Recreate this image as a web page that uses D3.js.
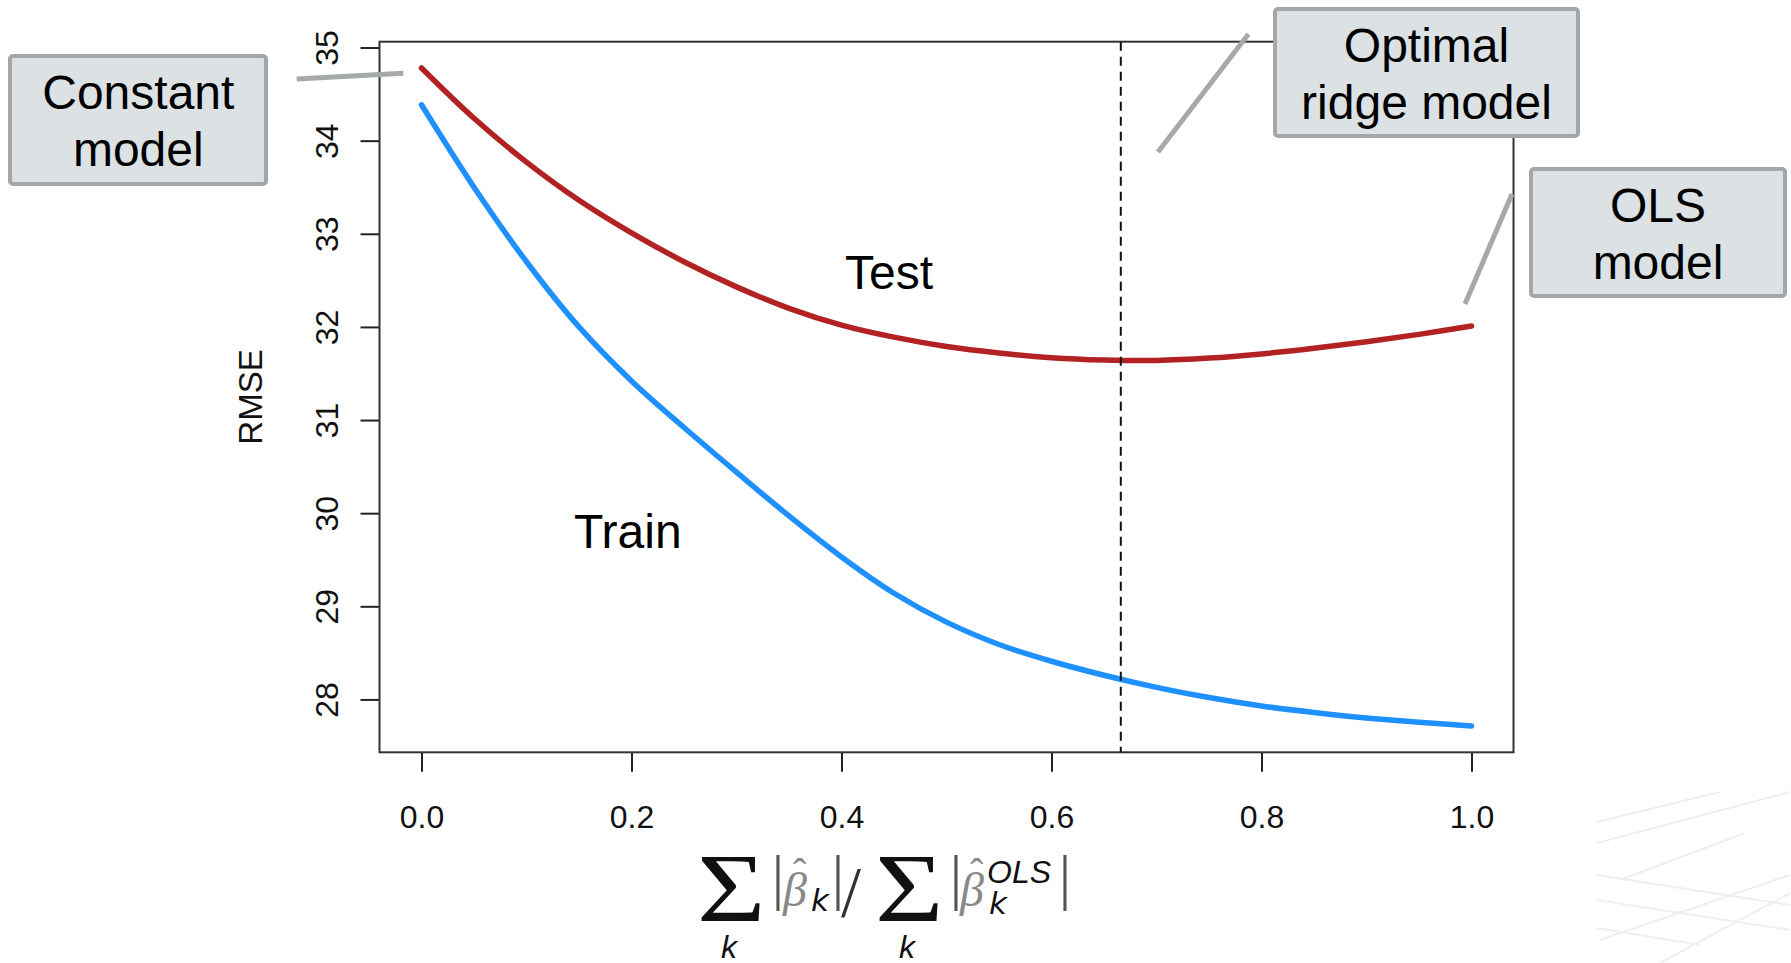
<!DOCTYPE html>
<html>
<head>
<meta charset="utf-8">
<script src="https://cdn.jsdelivr.net/npm/d3@7"></script>
<style>
  body { margin: 0; background: #fff; }
  svg text { font-family: "Liberation Sans", Arial, sans-serif; }
</style>
</head>
<body>
<svg id="chart" width="1791" height="963"></svg>
<script>
// shrinkage fraction sum|b_k| / sum|b_k^OLS|
var fracs = [0, 0.05, 0.1, 0.15, 0.2, 0.25, 0.3, 0.35, 0.4, 0.45, 0.5,
             0.55, 0.6, 0.65, 0.7, 0.75, 0.8, 0.85, 0.9, 0.95, 1.0];
var testRmse = [34.78, 34.24, 33.77, 33.36, 33.01, 32.70, 32.43, 32.20, 32.02, 31.89, 31.79,
                31.72, 31.67, 31.645, 31.64, 31.665, 31.71, 31.77, 31.84, 31.92, 32.01];
var trainRmse = [34.385, 33.50, 32.70, 32.00, 31.42, 30.92, 30.44, 29.97, 29.53, 29.14, 28.83,
                 28.59, 28.41, 28.26, 28.13, 28.02, 27.93, 27.86, 27.80, 27.755, 27.715];
var optimalFrac = 0.666;
var xTicks = [0, 0.2, 0.4, 0.6, 0.8, 1.0];
var yTicks = [28, 29, 30, 31, 32, 33, 34, 35];
var seriesNames = ["Test", "Train"];
var calloutLabels = [["Constant", "model"], ["Optimal", "ridge model"], ["OLS", "model"]];

var svg = d3.select("#chart");
var box = {left: 379.5, right: 1513.5, top: 41.7, bottom: 752.3};

// R style: 4% padding on both axes
var x = d3.scaleLinear().domain([-0.04, 1.04]).range([box.left, box.right]);
var ext = d3.extent(testRmse.concat(trainRmse)), span = ext[1] - ext[0];
var y = d3.scaleLinear()
  .domain([ext[0] - 0.04 * span, ext[1] + 0.04 * span])
  .range([box.bottom, box.top]);

// faint slide decoration, bottom right
var deco = svg.append("g").attr("stroke", "#efefef").attr("stroke-width", 2).attr("fill", "none");
[[1597, 822, 1720, 792], [1597, 843, 1790, 792], [1620, 880, 1745, 833], [1597, 875, 1790, 905],
 [1597, 900, 1790, 930], [1600, 940, 1790, 875], [1660, 963, 1790, 893], [1597, 928, 1700, 945]]
  .forEach(function(l) { deco.append("line").attr("x1", l[0]).attr("y1", l[1]).attr("x2", l[2]).attr("y2", l[3]); });

// x axis
var gx = svg.append("g")
  .attr("transform", "translate(0," + box.bottom + ")")
  .call(d3.axisBottom(x).tickValues(xTicks).tickSize(19.5).tickPadding(33).tickFormat(d3.format(".1f")));
gx.select(".domain").remove();
gx.selectAll("line").attr("stroke", "#222").attr("stroke-width", 2);
gx.selectAll("text").attr("fill", "#111").style("font-size", "32px");

// y axis with rotated labels
var gy = svg.append("g")
  .attr("transform", "translate(" + box.left + ",0)")
  .call(d3.axisLeft(y).tickValues(yTicks).tickSize(19).tickFormat(d3.format("d")));
gy.select(".domain").remove();
gy.selectAll("line").attr("stroke", "#222").attr("stroke-width", 2);
gy.selectAll("text")
  .attr("x", 0).attr("dy", null)
  .attr("text-anchor", "middle")
  .attr("transform", "translate(-41.5,0) rotate(-90)")
  .attr("fill", "#111").style("font-size", "32px");

svg.append("text")
  .attr("transform", "translate(262," + ((box.top + box.bottom) / 2) + ") rotate(-90)")
  .attr("text-anchor", "middle")
  .style("font-size", "33px").attr("fill", "#111")
  .text("RMSE");

// plot box
svg.append("rect")
  .attr("x", box.left).attr("y", box.top)
  .attr("width", box.right - box.left).attr("height", box.bottom - box.top)
  .attr("fill", "none").attr("stroke", "#333").attr("stroke-width", 2);

// curves
var line = d3.line().x(function(d) { return x(d[0]); }).y(function(d) { return y(d[1]); })
  .curve(d3.curveCatmullRom.alpha(0.5));
[[testRmse, "#b22222"], [trainRmse, "#1e90ff"]].forEach(function(s) {
  svg.append("path")
    .datum(d3.zip(fracs, s[0]))
    .attr("d", line)
    .attr("fill", "none").attr("stroke", s[1]).attr("stroke-width", 5.5)
    .attr("stroke-linecap", "round");
});

// optimal ridge marker
svg.append("line")
  .attr("x1", x(optimalFrac)).attr("x2", x(optimalFrac))
  .attr("y1", box.top).attr("y2", box.bottom)
  .attr("stroke", "#111").attr("stroke-width", 2).attr("stroke-dasharray", "9,6");

// series labels
svg.append("text").attr("x", 845).attr("y", 289).style("font-size", "48px").text(seriesNames[0]);
svg.append("text").attr("x", 574).attr("y", 548).style("font-size", "48px").text(seriesNames[1]);

// callouts
var boxes = [
  {x: 10, y: 56, w: 256, h: 128, cx: 138.3, ln: [296.7, 79, 403.3, 73.3]},
  {x: 1275, y: 9, w: 303, h: 127, cx: 1426.5, ln: [1248.5, 34, 1158, 152]},
  {x: 1531, y: 169, w: 254, h: 127, cx: 1658, ln: [1512, 194, 1465, 304]}
];
boxes.forEach(function(b, i) {
  svg.append("line")
    .attr("x1", b.ln[0]).attr("y1", b.ln[1]).attr("x2", b.ln[2]).attr("y2", b.ln[3])
    .attr("stroke", "#a5a9aa").attr("stroke-width", 5);
  svg.append("rect")
    .attr("x", b.x).attr("y", b.y).attr("width", b.w).attr("height", b.h).attr("rx", 3)
    .attr("fill", "#dce1e4").attr("stroke", "#a3a7a9").attr("stroke-width", 4);
  calloutLabels[i].forEach(function(t, j) {
    svg.append("text")
      .attr("x", b.cx).attr("y", b.y - 3 + 56 + 56.5 * j)
      .attr("text-anchor", "middle")
      .style("font-size", "48px").attr("fill", "#000")
      .text(t);
  });
});

// x axis label: sum_k |beta_k| / sum_k |beta_k^OLS|
var xl = svg.append("g");
function txt(s, px, py, size, opts) {
  opts = opts || {};
  return xl.append("text").attr("x", px).attr("y", py)
    .style("font-size", size + "px")
    .style("font-family", opts.family || null)
    .style("font-style", opts.italic ? "italic" : null)
    .attr("text-anchor", opts.anchor || "start")
    .attr("fill", opts.fill || "#111")
    .text(s);
}
[700, 878].forEach(function(sx) {
  txt("\u03A3", 0, 0, 98, {family: "Liberation Serif"})
    .attr("transform", "translate(" + (sx - 3) + ",921) scale(1.2,1)");
  txt("k", sx + 21, 958, 32, {italic: true});
});
[778, 838, 956, 1065].forEach(function(bx) {
  txt("|", bx, 898, 62, {anchor: "middle", family: "Liberation Serif", fill: "#555"});
});
txt("/", 851, 916, 72, {anchor: "middle", family: "Liberation Serif", fill: "#333"});
[783, 960].forEach(function(bx) {
  txt("\u03B2", bx, 906, 48, {family: "Liberation Serif", italic: true, fill: "#888"});
  txt("\u02C6", bx + 10, 886, 40, {family: "Liberation Serif", fill: "#888"});
});
txt("k", 811, 911, 31, {italic: true, family: "DejaVu Sans"});
txt("OLS", 987, 883, 32, {italic: true});
txt("k", 989, 914, 31, {italic: true, family: "DejaVu Sans"});
</script>
</body>
</html>
